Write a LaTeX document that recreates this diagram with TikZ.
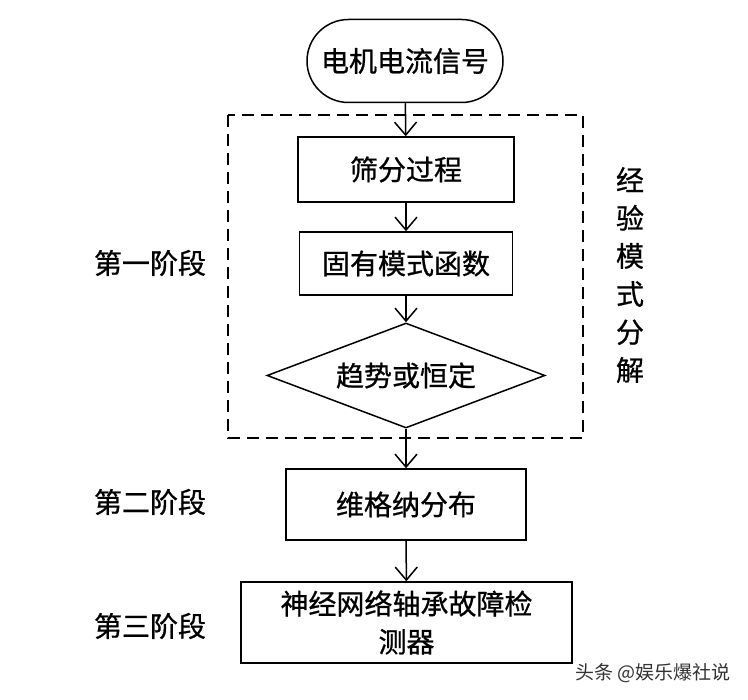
\documentclass[tikz,border=0pt]{standalone}
\usepackage{fontspec}
\setmainfont[FakeBold=0.8]{Noto Sans CJK SC}
\newfontfamily\wmfont{Noto Sans CJK SC}
\usetikzlibrary{shapes.geometric,shapes.misc,arrows.meta}
\begin{document}
\begin{tikzpicture}[x=1pt,y=-1pt,
  every node/.style={inner sep=0pt,font=\fontsize{28}{38}\selectfont},
  procbox/.style={draw,line width=1.5pt,rectangle,align=center},
  flow/.style={draw,line width=1.5pt,-{Straight Barb[length=13pt,width=22pt,line width=1.5pt]}},
  stagelabel/.style={anchor=center}]
\useasboundingbox[fill=white] (0,0) rectangle (748,700);
\node[draw,line width=1.5pt,rounded rectangle,minimum width=196pt,minimum height=83pt] (start) at (405,61) {电机电流信号};
\node[procbox,minimum width=216pt,minimum height=65pt] (sift) at (406,169.5) {筛分过程};
\node[procbox,minimum width=213pt,minimum height=63pt] (imf) at (406,263.5) {固有模式函数};
\node[draw,line width=1.5pt,diamond,aspect=2.65,minimum width=278pt,minimum height=105pt] (trend) at (406,375.5) {趋势或恒定};
\node[procbox,minimum width=240pt,minimum height=71pt] (wigner) at (406,504.5) {维格纳分布};
\node[procbox,minimum width=331pt,minimum height=81pt] (nn) at (406.5,622.5) {神经网络轴承故障检\\测器};
\draw[line width=1.5pt,dash pattern=on 12pt off 7pt] (228,115) rectangle (583,438);
\node[stagelabel] (s1) at (150,263) {第一阶段};
\node[stagelabel] (s2) at (150,502) {第二阶段};
\node[stagelabel] (s3) at (150,626) {第三阶段};
\node[align=center] (emd) at (630,275) {经\\验\\模\\式\\分\\解};
\node[font=\wmfont\fontsize{19}{22}\selectfont,text=black!80] (wm) at (653,673) {头条 @娱乐爆社说};
\draw[flow] (start) -- (sift);
\draw[flow] (sift) -- (imf);
\draw[flow] (imf) -- (trend);
\draw[flow] (trend) -- (wigner);
\draw[flow] (wigner) -- (nn);
\end{tikzpicture}
\end{document}
